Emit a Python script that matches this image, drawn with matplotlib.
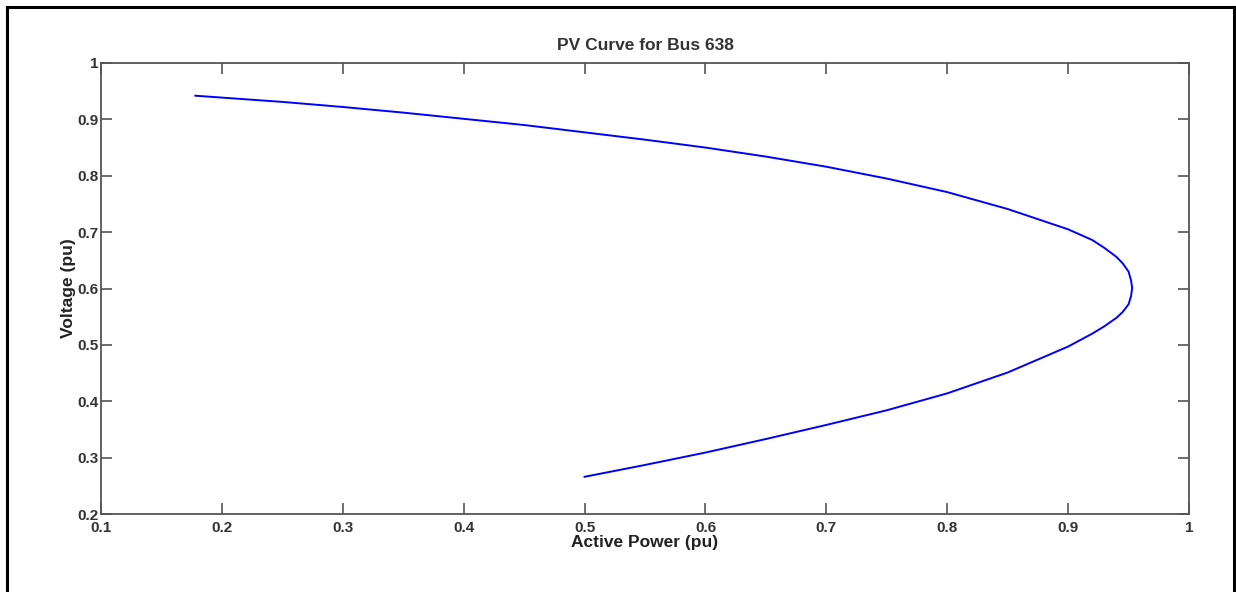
import matplotlib
matplotlib.use("Agg")
import matplotlib.pyplot as plt
from matplotlib.lines import Line2D

# PV curve of bus 638: upper branch -> nose -> lower branch
p_act = [0.178, 0.25, 0.30, 0.35, 0.40, 0.45, 0.50, 0.55, 0.60, 0.65,
         0.70, 0.75, 0.80, 0.85, 0.90, 0.92, 0.93, 0.94, 0.945, 0.95,
         0.952, 0.953, 0.952, 0.95, 0.945, 0.94, 0.93, 0.92, 0.90, 0.85,
         0.80, 0.75, 0.70, 0.65, 0.60, 0.55, 0.50]
v_bus = [0.942, 0.931, 0.922, 0.912, 0.901, 0.890, 0.877, 0.864, 0.850, 0.834,
         0.816, 0.795, 0.771, 0.741, 0.705, 0.686, 0.672, 0.656, 0.645, 0.630,
         0.615, 0.601, 0.586, 0.572, 0.558, 0.548, 0.533, 0.520, 0.497, 0.451,
         0.414, 0.384, 0.358, 0.333, 0.309, 0.287, 0.266]

x_ticks = [0.1, 0.2, 0.3, 0.4, 0.5, 0.6, 0.7, 0.8, 0.9, 1]
y_ticks = [0.2, 0.3, 0.4, 0.5, 0.6, 0.7, 0.8, 0.9, 1]
x_labels = ["0.1", "0.2", "0.3", "0.4", "0.5", "0.6", "0.7", "0.8", "0.9", "1"]
y_labels = ["0.2", "0.3", "0.4", "0.5", "0.6", "0.7", "0.8", "0.9", "1"]

plt.rcParams['font.family'] = ['Liberation Sans', 'DejaVu Sans']
plt.rcParams['font.weight'] = 'bold'

fig = plt.figure(figsize=(12.36, 5.92), dpi=100)
ax = fig.add_axes([101/1236, 1 - 514/592, 1088/1236, 451/592])

ax.plot(p_act, v_bus, color=(0, 0, 1), linewidth=1.4)

ax.set_xlim(0.1, 1)
ax.set_ylim(0.2, 1)
ax.set_xticks(x_ticks)
ax.set_xticklabels(x_labels)
ax.set_yticks(y_ticks)
ax.set_yticklabels(y_labels)

axcol = '#555555'
for s in ax.spines.values():
    s.set_color(axcol)
    s.set_linewidth(1.3)
ax.tick_params(axis='both', direction='in', length=8, width=1.2, color=axcol,
               top=True, right=True, labelsize=11, labelcolor='#333333')
ax.tick_params(axis='x', pad=5)
ax.tick_params(axis='y', pad=2)

ax.set_title("PV Curve for Bus 638", fontsize=12.5, fontweight='bold',
             color='#333333', pad=9)
ax.set_xlabel("Active Power (pu)", fontsize=12.5, fontweight='bold', color='#222222')
ax.set_ylabel("Voltage (pu)", fontsize=12.5, fontweight='bold', color='#222222')
ax.xaxis.set_label_coords(0.5, -0.046)
ax.yaxis.set_label_coords(-0.023, 0.5)

# black frame round the figure (bottom edge runs off the image)
lw = 2.2
fig.add_artist(Line2D([6.5/1236, 6.5/1236], [-0.1, 1 - 6.5/592], color='black', lw=lw,
                      transform=fig.transFigure))
fig.add_artist(Line2D([1234/1236, 1234/1236], [-0.1, 1 - 6.5/592], color='black', lw=lw,
                      transform=fig.transFigure))
fig.add_artist(Line2D([6.5/1236, 1234/1236], [1 - 6.5/592, 1 - 6.5/592], color='black', lw=lw,
                      transform=fig.transFigure))

fig.savefig("out.png", dpi=100)
